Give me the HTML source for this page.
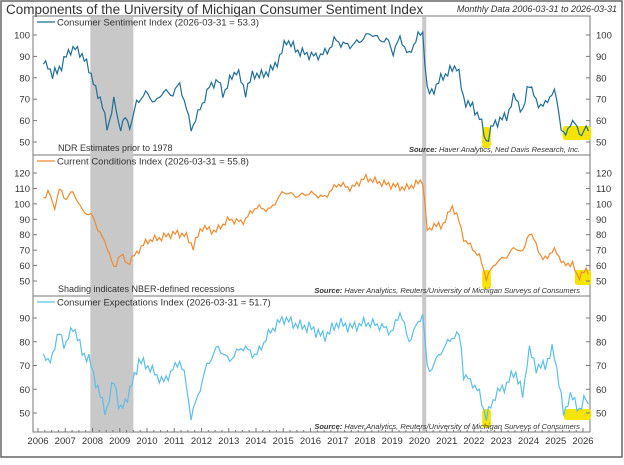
<!DOCTYPE html><html><head><meta charset="utf-8"><style>
body{margin:0;background:#fff;width:624px;height:460px;overflow:hidden}
text{font-family:"Liberation Sans",sans-serif}
</style></head><body>
<svg id="s" width="624" height="460" xmlns="http://www.w3.org/2000/svg">
<rect x="1" y="1" width="621" height="456" fill="#fff" stroke="#666" stroke-width="1.5"/>
<text x="6" y="14" font-size="13.5" fill="#333">Components of the University of Michigan Consumer Sentiment Index</text>
<text x="617" y="12" font-size="9" font-style="italic" fill="#333" text-anchor="end">Monthly Data 2006-03-31 to 2026-03-31</text>
<rect x="33" y="16" width="557" height="416" fill="none" stroke="#777" stroke-width="1"/>
<line x1="33" y1="155" x2="590" y2="155" stroke="#777"/>
<line x1="33" y1="296" x2="590" y2="296" stroke="#777"/>
<g id="g"></g>
</svg>
<script>
const NS="http://www.w3.org/2000/svg",g=document.getElementById('g');
function el(t,a,txt){const e=document.createElementNS(NS,t);for(const k in a)e.setAttribute(k,a[k]);if(txt!==undefined)e.textContent=txt;g.appendChild(e);return e;}
const X=t=>38+(t-2006)*27.25;
el('rect',{x:X(2007.92),y:17,width:X(2009.5)-X(2007.92),height:414,fill:'#c8c8c8'});
el('rect',{x:X(2020.1),y:17,width:4,height:414,fill:'#c8c8c8'});
const panels=[
 {top:16,bot:155,y0:100,py0:35,y1:50,py1:142,ticks:[50,60,70,80,90,100],col:'#1f6e99',
  label:'Consumer Sentiment Index (2026-03-31 = 53.3)',note:'NDR Estimates prior to 1978',src:'Haver Analytics, Ned Davis Research, Inc.',
  hl:[[2022.3,2022.62,127,148],[2025.25,2026.3,126,140]],
  k:[[2006.2,88],[2006.35,87],[2006.5,79],[2006.65,85],[2006.85,83],[2007.05,93],[2007.25,91],[2007.4,96],[2007.6,89],[2007.8,88],[2008.0,78],[2008.3,70],[2008.55,56],[2008.8,70],[2009.0,56],[2009.2,61],[2009.4,57],[2009.6,68],[2009.8,71],[2010.0,73],[2010.3,68],[2010.6,74],[2010.9,72],[2011.2,77],[2011.4,68],[2011.62,56],[2011.9,64],[2012.3,76],[2012.6,79],[2012.8,72],[2013.0,78],[2013.3,84],[2013.6,73],[2013.9,82],[2014.2,81],[2014.6,84],[2014.9,90],[2015.1,98],[2015.4,94],[2015.6,92],[2015.9,91],[2016.2,90],[2016.6,92],[2016.9,98],[2017.1,96],[2017.5,95],[2017.9,98],[2018.2,101],[2018.5,98],[2018.9,97],[2019.0,91],[2019.3,99],[2019.6,90],[2019.9,99],[2020.12,101],[2020.3,72],[2020.5,74],[2020.8,80],[2021.2,84],[2021.4,86],[2021.6,70],[2021.9,67],[2022.2,62],[2022.45,50],[2022.7,58],[2022.9,60],[2023.2,62],[2023.5,72],[2023.8,63],[2024.0,79],[2024.3,68],[2024.6,67],[2024.9,74],[2025.0,72],[2025.2,57],[2025.35,52],[2025.6,61],[2025.9,53],[2026.1,57],[2026.25,53]]},
 {top:155,bot:296,y0:120,py0:173,y1:50,py1:281,ticks:[50,60,70,80,90,100,110,120],col:'#f28a2e',
  label:'Current Conditions Index (2026-03-31 = 55.8)',note:'Shading indicates NBER-defined recessions',src:'Haver Analytics, Reuters/University of Michigan Surveys of Consumers',
  hl:[[2022.3,2022.62,270,289],[2025.7,2026.3,270,285]],
  k:[[2006.2,104],[2006.4,108],[2006.6,97],[2006.8,110],[2007.0,103],[2007.3,108],[2007.6,96],[2008.0,92],[2008.3,80],[2008.55,72],[2008.8,57],[2009.0,68],[2009.3,61],[2009.6,68],[2010.0,76],[2010.5,78],[2011.0,81],[2011.4,80],[2011.7,72],[2012.0,85],[2012.5,82],[2013.0,90],[2013.5,88],[2014.0,98],[2014.5,96],[2015.0,108],[2015.5,105],[2016.0,107],[2016.5,104],[2017.0,113],[2017.5,110],[2018.0,117],[2018.5,114],[2019.0,112],[2019.5,110],[2020.12,115],[2020.3,80],[2020.5,87],[2020.8,85],[2021.2,98],[2021.4,92],[2021.6,78],[2022.0,70],[2022.2,66],[2022.45,52],[2022.8,62],[2023.2,66],[2023.5,72],[2023.8,68],[2024.0,82],[2024.3,74],[2024.5,63],[2024.8,68],[2025.0,70],[2025.3,60],[2025.6,62],[2025.8,52],[2026.0,56],[2026.25,56]]},
 {top:296,bot:432,y0:90,py0:318,y1:50,py1:413,ticks:[50,60,70,80,90],col:'#5cbfea',
  label:'Consumer Expectations Index (2026-03-31 = 51.7)',note:'',src:'Haver Analytics, Reuters/University of Michigan Surveys of Consumers',
  hl:[[2022.3,2022.62,409,428],[2025.3,2026.3,409,420]],
  k:[[2006.2,75],[2006.4,70],[2006.6,78],[2006.8,84],[2007.0,78],[2007.3,87],[2007.6,76],[2007.9,72],[2008.2,60],[2008.5,50],[2008.8,65],[2009.0,50],[2009.4,60],[2009.7,72],[2010.0,70],[2010.6,63],[2011.2,72],[2011.4,65],[2011.62,48],[2012.2,70],[2012.6,78],[2013.0,72],[2013.5,78],[2014.0,74],[2014.5,84],[2015.0,90],[2015.5,87],[2016.0,86],[2016.5,82],[2017.0,88],[2017.5,86],[2018.0,88],[2018.5,87],[2019.0,84],[2019.3,93],[2019.6,80],[2020.12,92],[2020.3,67],[2020.5,70],[2020.8,76],[2021.2,82],[2021.5,83],[2021.6,66],[2022.0,62],[2022.2,58],[2022.45,48],[2022.8,58],[2023.2,62],[2023.5,68],[2023.8,57],[2024.0,77],[2024.3,69],[2024.6,70],[2024.9,77],[2025.1,65],[2025.3,48],[2025.5,58],[2025.9,51],[2026.1,57],[2026.25,52]]}
];
panels.forEach((p,pi)=>{
 const Y=v=>p.py0+(v-p.y0)*(p.py1-p.py0)/(p.y1-p.y0);
 p.hl.forEach(h=>el('rect',{x:X(h[0]),y:h[2],width:X(h[1])-X(h[0]),height:h[3]-h[2],fill:'#f5e400',rx:3}));
 p.ticks.forEach(t=>{const y=Y(t);
  el('line',{x1:33,x2:37,y1:y,y2:y,stroke:'#777'});el('line',{x1:586,x2:590,y1:y,y2:y,stroke:'#777'});
  el('text',{x:30,y:y+3.5,'font-size':9.5,fill:'#333','text-anchor':'end'},t);
  el('text',{x:596,y:y+3.5,'font-size':9.5,fill:'#333'},t);});
 let pts=[];const k=p.k;let j=0;
 for(let t=k[0][0];t<=k[k.length-1][0]+1e-6;t+=1/12){
  while(j<k.length-2&&t>k[j+1][0])j++;
  const a=k[j],b=k[j+1];const f=Math.min(1,Math.max(0,(t-a[0])/(b[0]-a[0])));
  let v=a[1]+(b[1]-a[1])*f;
  v+=1.6*Math.sin(t*37.3+pi*2)+1.1*Math.sin(t*91.7+pi);
  pts.push(X(t).toFixed(1)+','+Y(v).toFixed(1));}
 el('polyline',{points:pts.join(' '),fill:'none',stroke:p.col,'stroke-width':1.2});
 el('line',{x1:37,x2:55,y1:p.top+6,y2:p.top+6,stroke:p.col,'stroke-width':1.3});
 el('text',{x:57,y:p.top+9.5,'font-size':9.5,fill:'#333'},p.label);
 if(p.note)el('text',{x:58,y:p.bot-4,'font-size':9,fill:'#333'},p.note);
 const s=el('text',{x:580,y:p.bot-3,'font-size':7.5,'font-style':'italic',fill:'#333','text-anchor':'end'});
 s.innerHTML='<tspan font-weight="bold">Source:</tspan>   '+p.src;
});
for(let yr=2006;yr<=2026;yr++){const x=X(yr);
 el('line',{x1:x,x2:x,y1:428,y2:432,stroke:'#777'});
 for(let q=1;q<4&&yr<2026;q++){const xx=X(yr+q/4);el('line',{x1:xx,x2:xx,y1:430,y2:432,stroke:'#777'});}
 el('text',{x:x,y:444,'font-size':9.5,fill:'#333','text-anchor':'middle'},yr);}
</script></body></html>
